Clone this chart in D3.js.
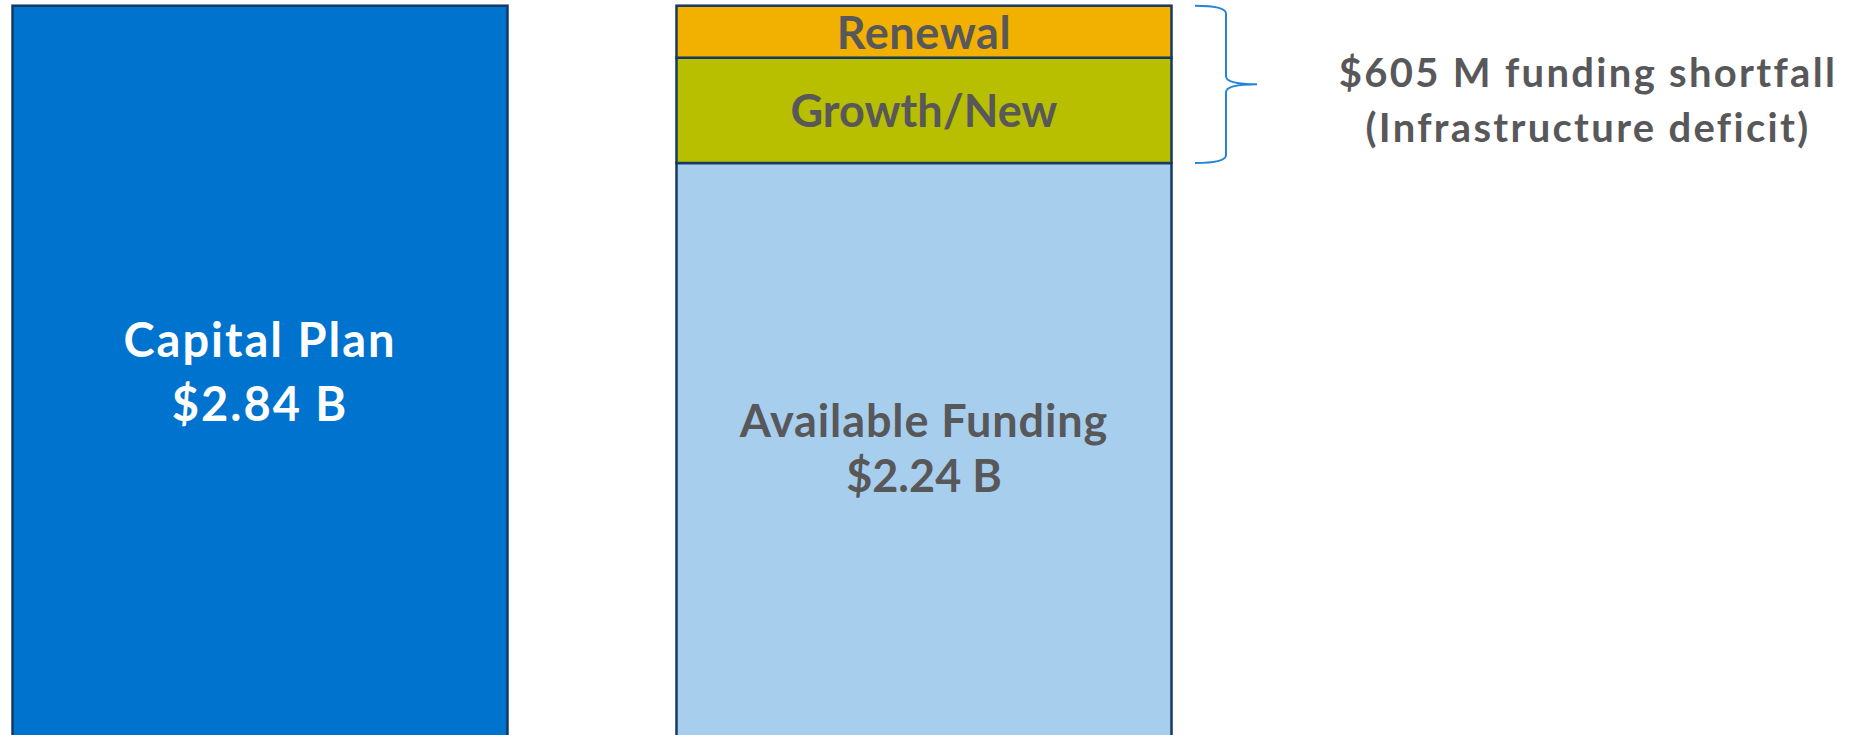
<!DOCTYPE html>
<html>
<head>
<meta charset="utf-8">
<script src="https://cdn.jsdelivr.net/npm/d3@7"></script>
<style>
  body { margin: 0; background: #fff; }
  svg { display: block; }
  text { font-family: Lato, "Open Sans", sans-serif; font-weight: bold; }
</style>
</head>
<body>
<div id="chart"></div>
<script>
// values in $ billions
const columns = ["capital", "funding"];
const capitalPlan = [{ key: "capital", name: "Capital Plan", label: "$2.84 B", value: 2.845 }];
const segments = ["Available Funding", "Growth/New", "Renewal"];
const segmentValues = [2.24, 0.405, 0.2];
const segmentLabels = ["$2.24 B", "", ""];
const shortfallText = ["$605 M funding shortfall", "(Infrastructure deficit)"];

const width = 1864;
const height = 735;

const colors = {
  capital: "#0073cf",
  "Available Funding": "#a8ceee",
  "Growth/New": "#b8be00",
  "Renewal": "#f2b000",
};
const border = "#153a63";
const textGray = "#58585a";

// letter spacing to get closer to the wider original typeface
const spacing = {
  "Capital Plan": 2, "$2.84 B": 2, "Available Funding": 0.9, "$2.24 B": 0,
  "Renewal": 0.6, "Growth/New": 0,
};

const svg = d3.select("#chart").append("svg")
  .attr("width", width)
  .attr("height", height);

const x = d3.scaleBand()
  .domain(columns)
  .range([12.5, 1171.5])
  .paddingInner(0.2545)
  .paddingOuter(0);

// bars run past the bottom of the view
const y = d3.scaleLinear()
  .domain([0, 2.845])
  .range([745.5, 5.7]);

// stacked pieces for right column
let acc = 0;
const stacked = segments.map((s, i) => {
  const d = { name: s, y0: acc, y1: acc + segmentValues[i], label: segmentLabels[i] };
  acc += segmentValues[i];
  return d;
});

// left bar
svg.selectAll("rect.capital")
  .data(capitalPlan)
  .join("rect")
  .attr("class", "capital")
  .attr("x", (d) => x(d.key))
  .attr("y", (d) => y(d.value))
  .attr("width", x.bandwidth())
  .attr("height", (d) => y(0) - y(d.value))
  .attr("fill", colors.capital)
  .attr("stroke", border)
  .attr("stroke-width", 2.5);

const capMid = (y(capitalPlan[0].value) + y(0)) / 2;
[[capitalPlan[0].name, -19], [capitalPlan[0].label, 45]].forEach(([t, dy]) => {
  svg.append("text")
    .attr("x", x("capital") + x.bandwidth() / 2)
    .attr("y", capMid + dy)
    .attr("text-anchor", "middle")
    .attr("fill", "#fff")
    .attr("font-size", 47)
    .attr("letter-spacing", spacing[t])
    .text(t);
});

// right stacked bar
svg.selectAll("rect.seg")
  .data(stacked)
  .join("rect")
  .attr("class", "seg")
  .attr("x", x("funding"))
  .attr("y", (d) => y(d.y1))
  .attr("width", x.bandwidth())
  .attr("height", (d) => y(d.y0) - y(d.y1))
  .attr("fill", (d) => colors[d.name])
  .attr("stroke", border)
  .attr("stroke-width", 2.5);

const cx = x("funding") + x.bandwidth() / 2;
const avail = stacked[0];
const availMid = (y(avail.y0) + y(avail.y1)) / 2;
[[avail.name, -17], [avail.label, 38]].forEach(([t, dy]) => {
  svg.append("text")
    .attr("x", cx).attr("y", availMid + dy)
    .attr("text-anchor", "middle").attr("fill", textGray).attr("font-size", 45)
    .attr("letter-spacing", spacing[t])
    .text(t);
});

svg.selectAll("text.seglabel")
  .data(stacked.slice(1))
  .join("text")
  .attr("class", "seglabel")
  .attr("x", cx)
  .attr("y", (d) => (y(d.y0) + y(d.y1)) / 2 + 17)
  .attr("text-anchor", "middle")
  .attr("fill", textGray)
  .attr("font-size", 45)
  .attr("letter-spacing", (d) => spacing[d.name])
  .text((d) => d.name);

// curly brace over the shortfall
const braceTop = y(stacked[2].y1);
const braceBot = y(stacked[1].y0);
const braceMid = (braceTop + braceBot) / 2;
const bx0 = 1195, bx1 = 1226, bx2 = 1257;
const brace = d3.path();
brace.moveTo(bx0, braceTop);
brace.quadraticCurveTo(bx1, braceTop, bx1, braceTop + 8);
brace.lineTo(bx1, braceMid - 8);
brace.quadraticCurveTo(bx1, braceMid, bx2, braceMid);
brace.quadraticCurveTo(bx1, braceMid, bx1, braceMid + 8);
brace.lineTo(bx1, braceBot - 8);
brace.quadraticCurveTo(bx1, braceBot, bx0, braceBot);
svg.append("path")
  .attr("d", brace.toString())
  .attr("fill", "none")
  .attr("stroke", "#2385d8")
  .attr("stroke-width", 2);

svg.selectAll("text.note")
  .data(shortfallText)
  .join("text")
  .attr("class", "note")
  .attr("x", 1588)
  .attr("y", (d, i) => 87 + i * 55)
  .attr("text-anchor", "middle")
  .attr("fill", textGray)
  .attr("font-size", 40)
  .attr("letter-spacing", 2.3)
  .text((d) => d);
</script>
</body>
</html>
